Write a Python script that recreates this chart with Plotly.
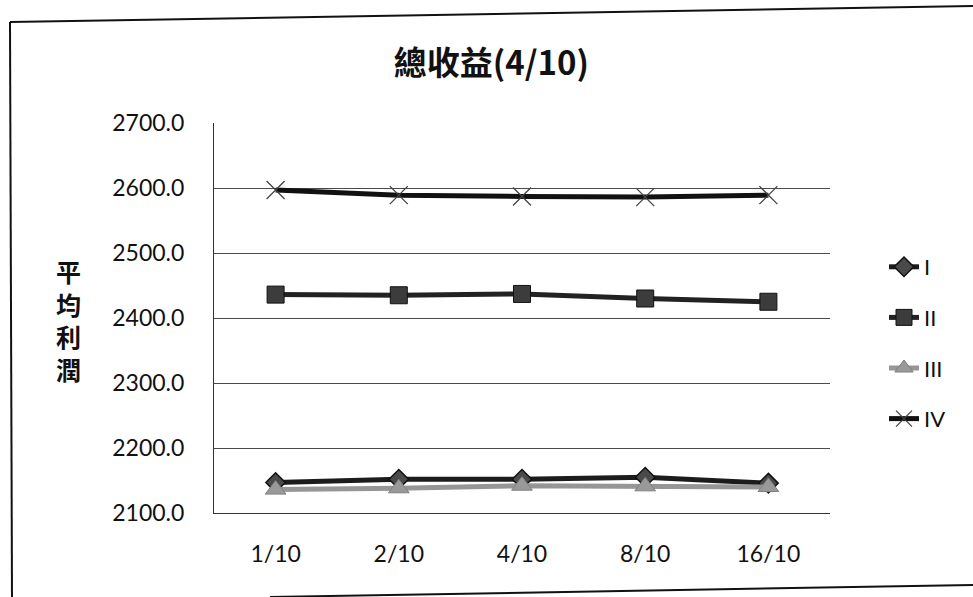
import plotly.graph_objects as go

# Category labels and series values
categories = ["1/10", "2/10", "4/10", "8/10", "16/10"]
series_names = ["I", "II", "III", "IV"]
values_I = [2147, 2152, 2152, 2155, 2146]
values_II = [2436, 2435, 2437, 2430, 2425]
values_III = [2136, 2138, 2142, 2141, 2140]
values_IV = [2597, 2589, 2587, 2586, 2589]
y_ticks = [2100, 2200, 2300, 2400, 2500, 2600, 2700]
y_tick_text = ["2100.0", "2200.0", "2300.0", "2400.0", "2500.0", "2600.0", "2700.0"]

W, H = 973, 597
L, R, T, B = 214, 143, 123, 84
PW, PH = W - L - R, H - T - B


def px_x(x):
    return (x - L) / PW


def px_y(y):
    return (H - B - y) / PH


styles = [
    dict(line=dict(color="#1c1c1c", width=5),
         marker=dict(symbol="diamond", size=15, color="#4a4a4a",
                     line=dict(color="#111111", width=1.5))),
    dict(line=dict(color="#222222", width=5),
         marker=dict(symbol="square", size=17, color="#3c3c3c",
                     line=dict(color="#111111", width=1))),
    dict(line=dict(color="#969696", width=5),
         marker=dict(symbol="triangle-up", size=18, color="#999999",
                     line=dict(color="#808080", width=1))),
    dict(line=dict(color="#111111", width=5),
         marker=dict(symbol="x-thin-open", size=18, color="#444444",
                     line=dict(color="#444444", width=1.3))),
]

fig = go.Figure()
for name, vals, st in zip(series_names, [values_I, values_II, values_III, values_IV], styles):
    fig.add_trace(go.Scatter(
        x=categories, y=vals, name=name, mode="lines+markers",
        legendgroup=name, line=st["line"], marker=st["marker"],
    ))

tick_font = dict(family="Lato, 'Open Sans', sans-serif", size=23, color="#111111")

fig.update_layout(
    width=W, height=H,
    margin=dict(l=L, r=R, t=T, b=B),
    paper_bgcolor="white", plot_bgcolor="white",
    title=dict(text="<b>總收益(4/10)</b>", x=0.505, xanchor="center",
               y=1 - 63 / H, yanchor="middle",
               font=dict(family="'Noto Sans CJK TC', sans-serif", size=33, color="#111111")),
    xaxis=dict(type="category", range=[-0.5, 4.5], showgrid=False,
               showline=True, linecolor="#333333", linewidth=1,
               ticks="outside", ticklen=20, tickcolor="rgba(0,0,0,0)",
               tickfont=tick_font),
    yaxis=dict(range=[2100, 2700], tickvals=y_ticks, ticktext=y_tick_text,
               showgrid=True, gridcolor="#4a4a4a", gridwidth=1,
               showline=True, linecolor="#333333", linewidth=1,
               zeroline=False, ticks="outside", ticklen=24,
               tickcolor="rgba(0,0,0,0)", tickfont=tick_font),
    legend=dict(x=px_x(884), y=px_y(246), xanchor="left", yanchor="top",
                font=dict(family="Lato, 'Open Sans', sans-serif", size=22, color="#111111"),
                tracegroupgap=19, bgcolor="rgba(0,0,0,0)"),
    showlegend=True,
)

# Vertical axis title, one character per line
fig.add_annotation(
    text="<b>平<br>均<br>利<br>潤</b>", xref="paper", yref="paper",
    x=px_x(68), y=px_y(320), xanchor="center", yanchor="middle",
    showarrow=False, align="center",
    font=dict(family="'Noto Sans CJK TC', sans-serif", size=25, color="#111111"),
)

# Outer chart frame
frame = dict(color="#111111", width=2)
fig.add_shape(type="line", xref="paper", yref="paper",
              x0=px_x(10), y0=px_y(22), x1=px_x(12), y1=px_y(597), line=frame)
fig.add_shape(type="line", xref="paper", yref="paper",
              x0=px_x(10), y0=px_y(22), x1=px_x(973), y1=px_y(6), line=frame)
fig.add_shape(type="line", xref="paper", yref="paper",
              x0=px_x(270), y0=px_y(597), x1=px_x(973), y1=px_y(585), line=frame)

fig.write_html("out.html")
